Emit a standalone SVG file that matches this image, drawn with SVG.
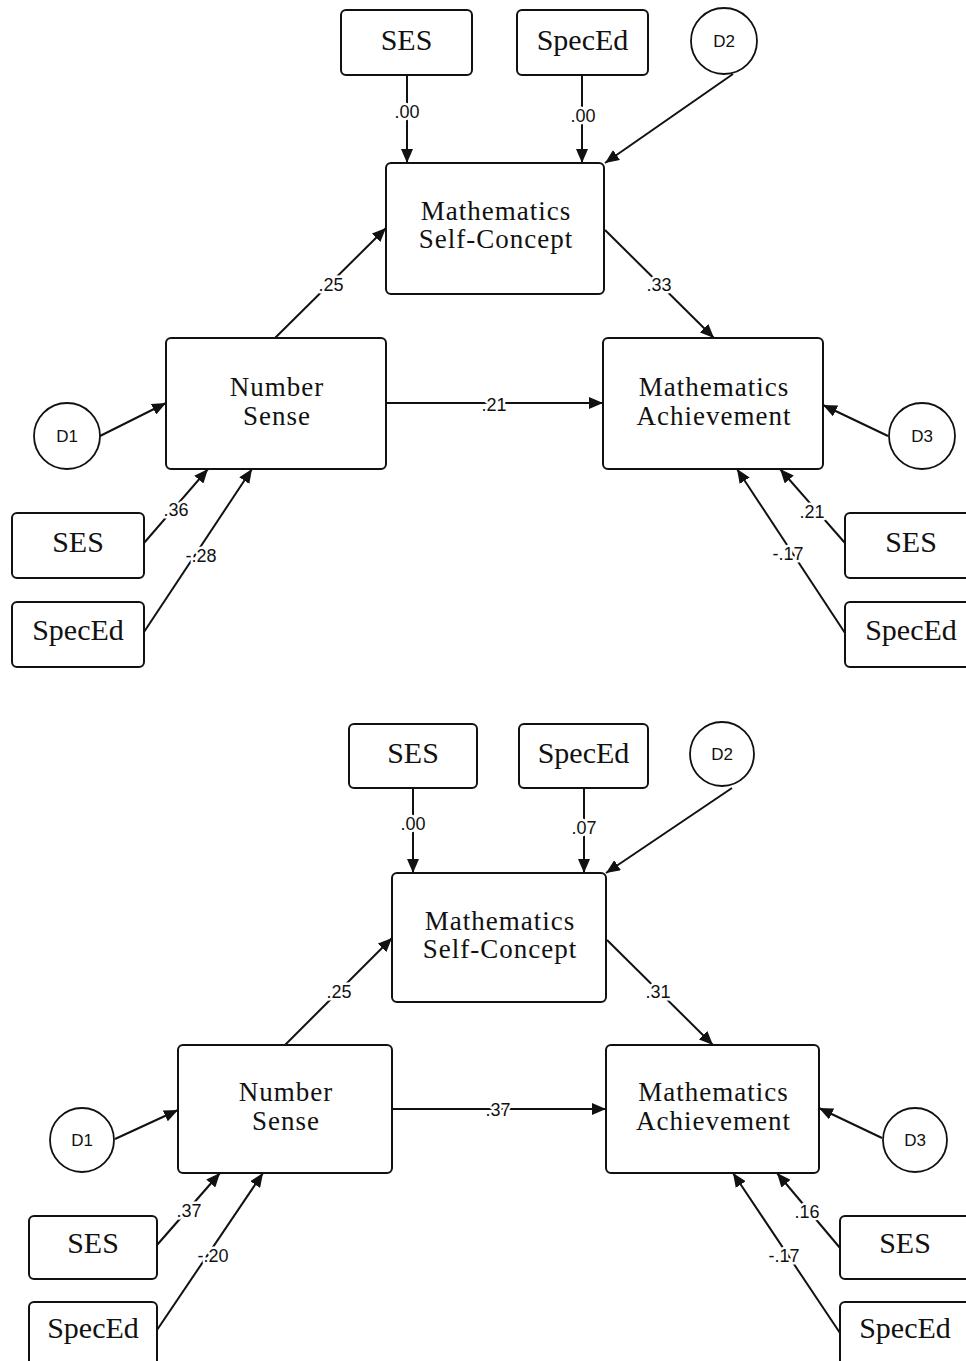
<svg xmlns="http://www.w3.org/2000/svg" width="966" height="1361" viewBox="0 0 966 1361">
<style>
.box{fill:#fff;stroke:#111;stroke-width:2}
.circ{fill:#fff;stroke:#111;stroke-width:1.8}
.sm{font-family:"Liberation Serif","Times New Roman",serif;font-size:30px;fill:#111;text-anchor:middle}
.big{font-family:"Liberation Serif","Times New Roman",serif;font-size:27px;letter-spacing:1px;fill:#111;text-anchor:middle}
.d{font-family:"Liberation Sans",Arial,sans-serif;font-size:17px;fill:#111;text-anchor:middle}
.lbl{font-family:"Liberation Sans",Arial,sans-serif;font-size:18px;fill:#111;text-anchor:middle;stroke:#fff;stroke-width:5;paint-order:stroke;stroke-linejoin:round}
.edge{stroke:#111;stroke-width:2;fill:none;marker-end:url(#ah)}
</style>
<defs>
<marker id="ah" viewBox="0 0 14 12" markerWidth="14" markerHeight="12" refX="14" refY="6" orient="auto" markerUnits="userSpaceOnUse">
<path d="M0,0 L14,6 L0,12 z" fill="#111"/>
</marker>
</defs>
<rect width="966" height="1361" fill="#fff"/>

<g id="connectors">
<line class="edge" x1="407" y1="75" x2="407" y2="163"/>
<line class="edge" x1="582" y1="75" x2="582" y2="163"/>
<line class="edge" x1="733" y1="74" x2="605" y2="163"/>
<line class="edge" x1="275" y1="338" x2="386" y2="228"/>
<line class="edge" x1="605" y1="230" x2="714" y2="338"/>
<line class="edge" x1="386" y1="403" x2="603" y2="403"/>
<line class="edge" x1="100" y1="436" x2="166" y2="403"/>
<line class="edge" x1="888" y1="436" x2="823" y2="405"/>
<line class="edge" x1="144" y1="543" x2="208" y2="469"/>
<line class="edge" x1="144" y1="632" x2="252" y2="469"/>
<line class="edge" x1="845" y1="543" x2="780" y2="469"/>
<line class="edge" x1="845" y1="633" x2="737" y2="469"/>
<line class="edge" x1="413" y1="788" x2="413" y2="873"/>
<line class="edge" x1="584" y1="788" x2="584" y2="873"/>
<line class="edge" x1="732" y1="788" x2="606" y2="873"/>
<line class="edge" x1="285" y1="1045" x2="392" y2="938"/>
<line class="edge" x1="607" y1="940" x2="713" y2="1045"/>
<line class="edge" x1="392" y1="1109" x2="606" y2="1109"/>
<line class="edge" x1="115" y1="1139" x2="178" y2="1110"/>
<line class="edge" x1="882" y1="1138" x2="819" y2="1108"/>
<line class="edge" x1="157" y1="1245" x2="220" y2="1173"/>
<line class="edge" x1="157" y1="1330" x2="263" y2="1173"/>
<line class="edge" x1="840" y1="1248" x2="777" y2="1173"/>
<line class="edge" x1="840" y1="1333" x2="733" y2="1173"/>

<text class="lbl" x="407" y="118">.00</text>
<text class="lbl" x="583" y="122">.00</text>
<text class="lbl" x="331" y="291">.25</text>
<text class="lbl" x="659" y="291">.33</text>
<text class="lbl" x="494" y="411">.21</text>
<text class="lbl" x="176" y="516">.36</text>
<text class="lbl" x="201" y="562">-.28</text>
<text class="lbl" x="812" y="518">.21</text>
<text class="lbl" x="788" y="560">-.17</text>
<text class="lbl" x="413" y="830">.00</text>
<text class="lbl" x="584" y="834">.07</text>
<text class="lbl" x="339" y="998">.25</text>
<text class="lbl" x="658" y="998">.31</text>
<text class="lbl" x="498" y="1116">.37</text>
<text class="lbl" x="189" y="1217">.37</text>
<text class="lbl" x="213" y="1262">-.20</text>
<text class="lbl" x="807" y="1218">.16</text>
<text class="lbl" x="784" y="1262">-.17</text>
</g>

<g id="t_ses">
<rect class="box" x="341" y="10" width="131" height="65" rx="5"/>
<text class="sm" x="406.5" y="50">SES</text>
</g>
<g id="t_speced">
<rect class="box" x="517" y="10" width="131" height="65" rx="5"/>
<text class="sm" x="582.5" y="50">SpecEd</text>
</g>
<g id="t_d2">
<circle class="circ" cx="724" cy="41" r="33"/>
<text class="d" x="724" y="47">D2</text>
</g>
<g id="t_selfconcept">
<rect class="box" x="386" y="163" width="218" height="131" rx="5"/>
<text class="big" x="496" y="220">Mathematics</text>
<text class="big" x="496" y="248">Self-Concept</text>
</g>
<g id="t_numbersense">
<rect class="box" x="166" y="338" width="220" height="131" rx="5"/>
<text class="big" x="277" y="396">Number</text>
<text class="big" x="277" y="425">Sense</text>
</g>
<g id="t_achievement">
<rect class="box" x="603" y="338" width="220" height="131" rx="5"/>
<text class="big" x="714" y="396">Mathematics</text>
<text class="big" x="714" y="425">Achievement</text>
</g>
<g id="t_d1">
<circle class="circ" cx="67" cy="436" r="33"/>
<text class="d" x="67" y="442">D1</text>
</g>
<g id="t_d3">
<circle class="circ" cx="922" cy="436" r="33"/>
<text class="d" x="922" y="442">D3</text>
</g>
<g id="t_ses_l">
<rect class="box" x="12" y="513" width="132" height="65" rx="5"/>
<text class="sm" x="78" y="552">SES</text>
</g>
<g id="t_speced_l">
<rect class="box" x="12" y="602" width="132" height="65" rx="5"/>
<text class="sm" x="78" y="640">SpecEd</text>
</g>
<g id="t_ses_r">
<rect class="box" x="845" y="513" width="132" height="65" rx="5"/>
<text class="sm" x="911" y="552">SES</text>
</g>
<g id="t_speced_r">
<rect class="box" x="845" y="602" width="132" height="65" rx="5"/>
<text class="sm" x="911" y="640">SpecEd</text>
</g>

<g id="b_ses">
<rect class="box" x="349" y="724" width="128" height="64" rx="5"/>
<text class="sm" x="413" y="763">SES</text>
</g>
<g id="b_speced">
<rect class="box" x="519" y="724" width="129" height="64" rx="5"/>
<text class="sm" x="583.5" y="763">SpecEd</text>
</g>
<g id="b_d2">
<circle class="circ" cx="722" cy="754" r="32"/>
<text class="d" x="722" y="760">D2</text>
</g>
<g id="b_selfconcept">
<rect class="box" x="392" y="873" width="214" height="129" rx="5"/>
<text class="big" x="500" y="930">Mathematics</text>
<text class="big" x="500" y="958">Self-Concept</text>
</g>
<g id="b_numbersense">
<rect class="box" x="178" y="1045" width="214" height="128" rx="5"/>
<text class="big" x="286" y="1101">Number</text>
<text class="big" x="286" y="1130">Sense</text>
</g>
<g id="b_achievement">
<rect class="box" x="606" y="1045" width="213" height="128" rx="5"/>
<text class="big" x="713.5" y="1101">Mathematics</text>
<text class="big" x="713.5" y="1130">Achievement</text>
</g>
<g id="b_d1">
<circle class="circ" cx="82" cy="1140" r="32"/>
<text class="d" x="82" y="1146">D1</text>
</g>
<g id="b_d3">
<circle class="circ" cx="915" cy="1140" r="32"/>
<text class="d" x="915" y="1146">D3</text>
</g>
<g id="b_ses_l">
<rect class="box" x="29" y="1216" width="128" height="63" rx="5"/>
<text class="sm" x="93" y="1253">SES</text>
</g>
<g id="b_speced_l">
<rect class="box" x="29" y="1302" width="128" height="70" rx="5"/>
<text class="sm" x="93" y="1338">SpecEd</text>
</g>
<g id="b_ses_r">
<rect class="box" x="840" y="1216" width="130" height="63" rx="5"/>
<text class="sm" x="905" y="1253">SES</text>
</g>
<g id="b_speced_r">
<rect class="box" x="840" y="1302" width="130" height="70" rx="5"/>
<text class="sm" x="905" y="1338">SpecEd</text>
</g>
</svg>
